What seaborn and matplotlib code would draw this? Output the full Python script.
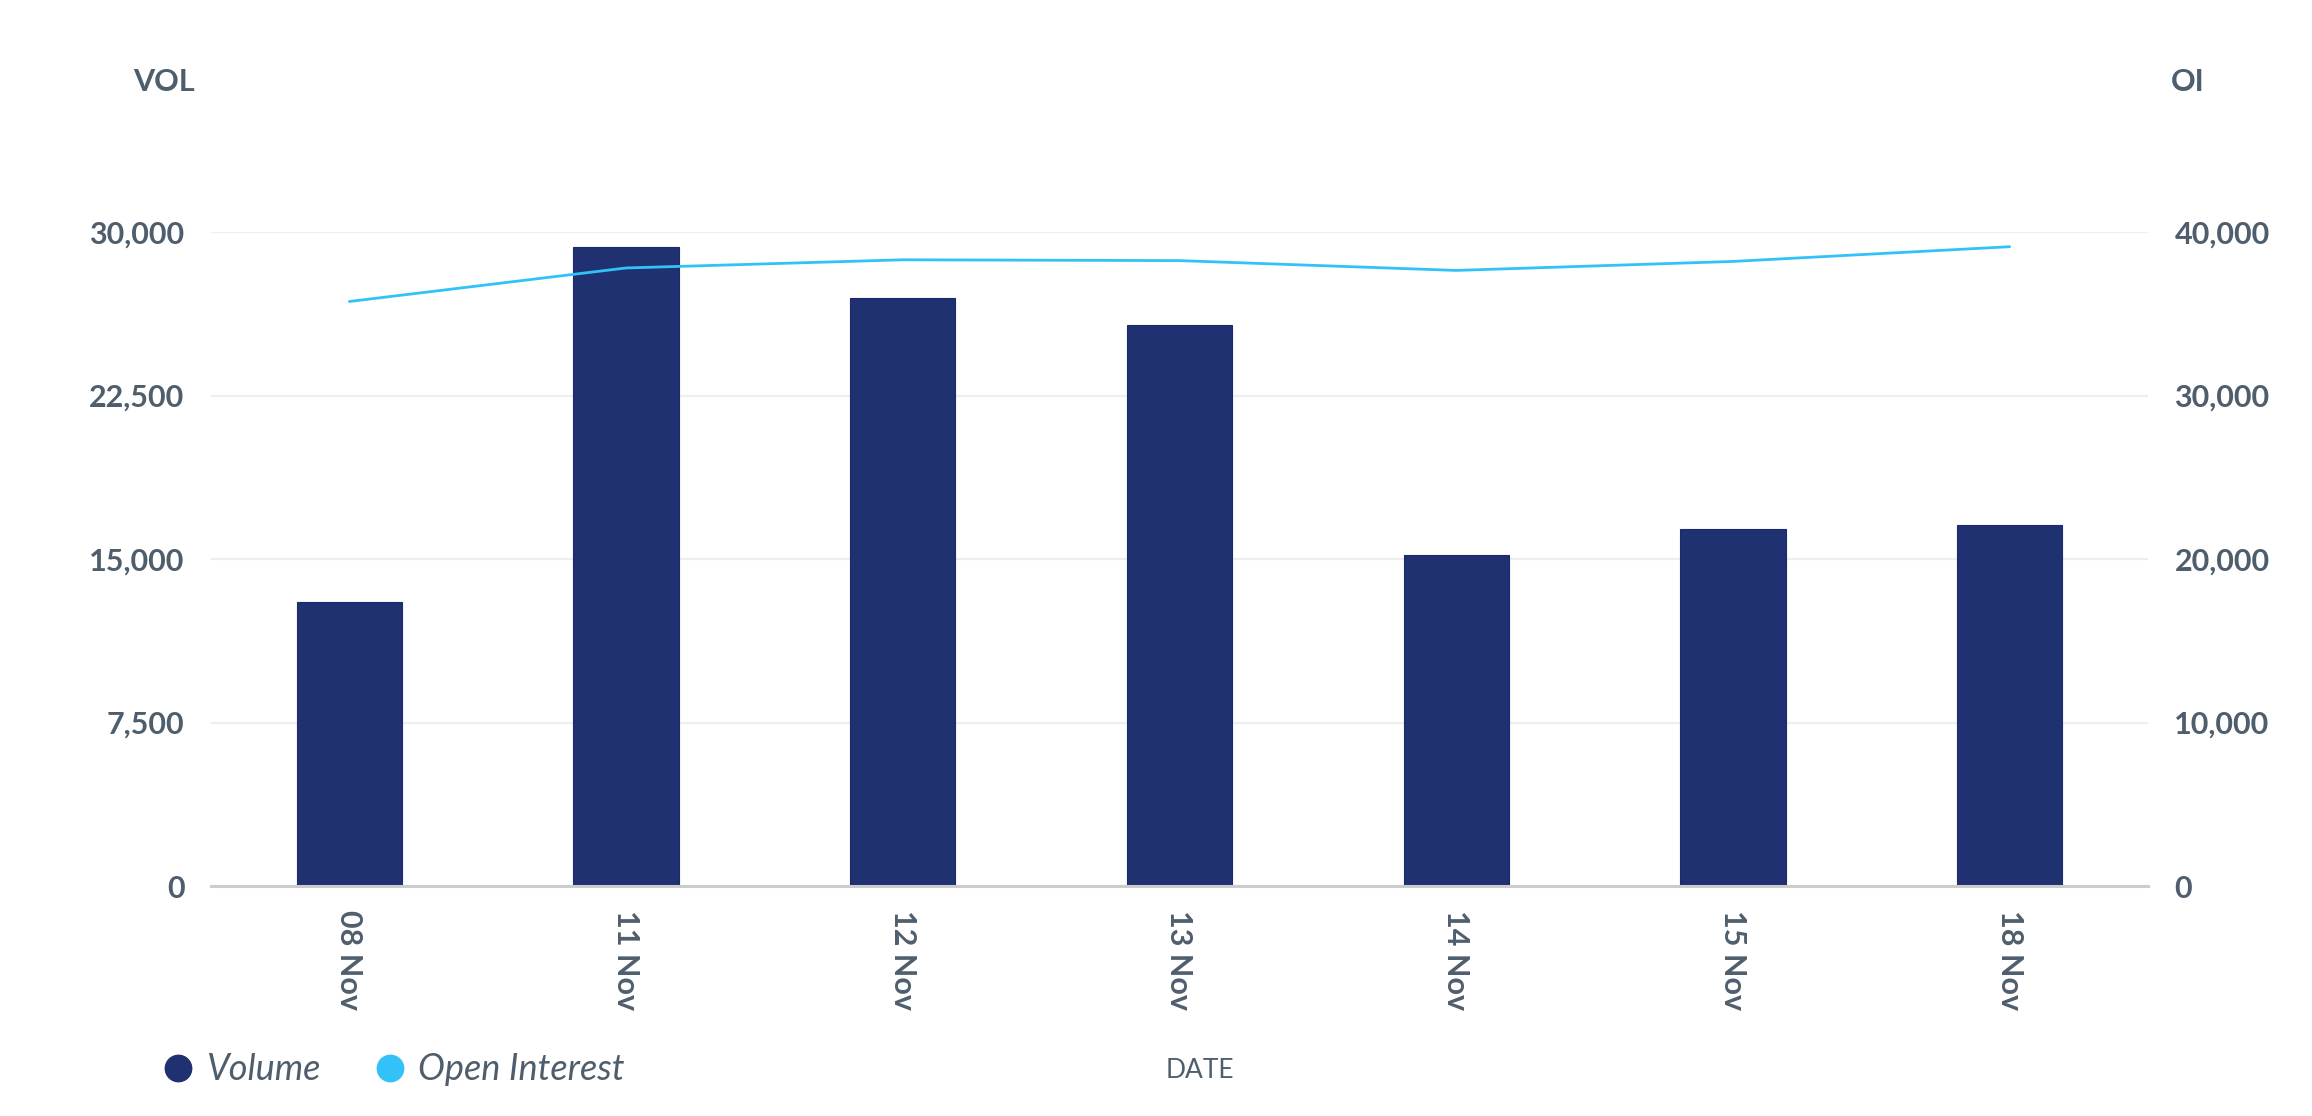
import numpy as np
import pandas as pd
import matplotlib
matplotlib.use('Agg')
import matplotlib.pyplot as plt
import seaborn as sns
from matplotlib.lines import Line2D

# ---- data ----
dates = ['08 Nov', '11 Nov', '12 Nov', '13 Nov', '14 Nov', '15 Nov', '18 Nov']
volume = [13050, 29300, 26950, 25750, 15180, 16360, 16560]
open_interest = [35750, 37800, 38300, 38250, 37650, 38200, 39100]
vol_ticks = [0, 7500, 15000, 22500, 30000]
oi_ticks = [0, 10000, 20000, 30000, 40000]
legend_labels = ['Volume', 'Open Interest']

BAR = '#1f3170'
LINE = '#33c2f7'
TXT = '#4f5e6d'
W, H = 2312, 1116
WT = 'bold'

sns.set_theme(style='white')
plt.rcParams['font.family'] = ['Lato', 'DejaVu Sans']

df = pd.DataFrame({'date': dates, 'volume': volume, 'oi': open_interest,
                   'pos': np.arange(len(dates))})

fig = plt.figure(figsize=(W / 100, H / 100), dpi=100)
fig.patch.set_facecolor('white')
ax = fig.add_axes([211 / W, 1 - 886 / H, (2148 - 211) / W, (886 - 232) / H])

sns.barplot(data=df, x='date', y='volume', color=BAR, saturation=1,
            width=0.38, ax=ax, edgecolor='#1a2a6c', linewidth=0.8)
ax.set_xlim(-0.5, len(dates) - 0.5)
ax.set_ylim(0, vol_ticks[-1])
ax.set_axisbelow(True)
ax.yaxis.grid(True, color='#eeeeee', linewidth=1.6)
ax.xaxis.grid(False)
for s in ['top', 'right', 'left']:
    ax.spines[s].set_visible(False)
ax.spines['bottom'].set_color('#cccccc')
ax.spines['bottom'].set_linewidth(2.2)

ax.set_yticks(vol_ticks)
ax.set_yticklabels([f'{v:,.0f}' for v in vol_ticks], fontsize=22,
                   fontweight=WT, color=TXT)
ax.set_xticks(range(len(dates)))
ax.set_xticklabels(dates, rotation=-90, fontsize=22,
                   fontweight=WT, color=TXT)
ax.tick_params(axis='y', length=0, pad=19)
ax.tick_params(axis='x', length=0, pad=17)
ax.set_xlabel('')
ax.set_ylabel('')

ax2 = ax.twinx()
sns.lineplot(data=df, x='pos', y='oi', color=LINE, linewidth=2.0, ax=ax2)
ax2.set_ylim(0, oi_ticks[-1])
ax2.set_yticks(oi_ticks)
ax2.set_yticklabels([f'{v:,.0f}' for v in oi_ticks], fontsize=22,
                    fontweight=WT, color=TXT)
ax2.tick_params(axis='y', length=0, pad=19)
ax2.set_ylabel('')
ax2.set_xlabel('')
for s in ['top', 'right', 'left', 'bottom']:
    ax2.spines[s].set_visible(False)
ax.set_xlim(-0.5, len(dates) - 0.5)

fig.text(195 / W, 1 - 82 / H, 'VOL', ha='right', va='center', fontsize=22,
         fontweight=WT, color=TXT)
fig.text(2171 / W, 1 - 82 / H, 'OI', ha='left', va='center', fontsize=22,
         fontweight=WT, color=TXT)
fig.text(1200 / W, 1 - 1070 / H, 'DATE', ha='center', va='center',
         fontsize=19, color=TXT)

handles = [Line2D([], [], marker='o', ls='none', markersize=19,
                  markerfacecolor=BAR, markeredgecolor=BAR),
           Line2D([], [], marker='o', ls='none', markersize=19,
                  markerfacecolor=LINE, markeredgecolor=LINE)]
fig.legend(handles=handles, labels=legend_labels, loc='center left',
           bbox_to_anchor=(161 / W, 1 - 1070 / H), ncol=2, frameon=False,
           prop={'style': 'italic', 'size': 26}, labelcolor=TXT,
           handlelength=0.95, handletextpad=0.3, columnspacing=1.45,
           borderpad=0, borderaxespad=0)

fig.savefig('out.png', dpi=100, facecolor='white')
